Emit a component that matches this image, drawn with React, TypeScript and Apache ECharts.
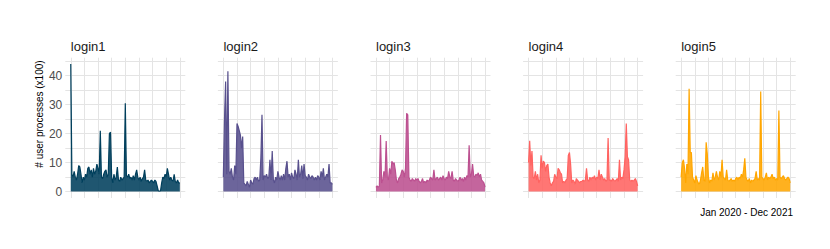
import { useEffect, useRef } from "react";
import * as echarts from "echarts";

// ---- data (weekly readings, week 0 = Jan 2020, week 96 = Jan 2022) ----
const panelNames = ["login1", "login2", "login3", "login4", "login5"];
const panelColors = ["#003f5c", "#58508d", "#bc5090", "#ff6361", "#ffa600"];

const login1 = [
  44, 6, 5, 7, 5, 4, 6, 9, 8.5, 6, 3, 5, 4, 6, 5, 8, 8.5, 6, 7.5, 5,
  8, 6, 7, 9.5, 8, 6, 21, 5, 4.5, 6, 7, 7.5, 5, 6, 20, 20.5, 5, 3, 6, 4,
  5, 8.5, 4, 3.5, 5, 4, 4.5, 5, 30.5, 5.5, 5, 6, 4.5, 5, 4, 5.5, 4, 6, 7.5, 5,
  4, 5, 3.5, 4.5, 5, 7.5, 4, 3.5, 4, 3, 3.5, 4, 3.5, 3, 4, 3.5, 2, 0.3, 0.2, 0.3,
  3, 5, 4.5, 6, 5, 8, 6, 4, 5, 4, 3.5, 6, 3.5, 3, 4, 3, 3,
];
const login2 = [
  5, 25, 38, 6, 41.5, 7, 6, 8, 5, 4, 9, 6, 23.5, 22.5, 21, 19.5, 15, 19, 3, 2.5,
  2, 3.5, 2.5, 1.5, 4, 3, 2.5, 4.5, 5, 4, 5, 3.5, 4, 11.5, 26.5, 4, 5.5, 5, 6, 4.5,
  5, 11, 4, 14, 4, 3, 5, 4, 7, 5, 4, 5.5, 4, 6, 4, 8, 10.5, 5, 6, 4,
  6.5, 5, 4.5, 7.5, 6, 4, 11, 5, 6, 9, 4.5, 9.5, 5.5, 5, 4, 6, 5, 4.5, 5.5, 5,
  4, 5, 4, 5.5, 5, 4, 7, 5, 8, 4, 5, 6, 5, 9.5, 3, 3, 2.5,
];
const login3 = [
  1.5, 2, 1.5, 2, 19.5, 3, 4, 7, 5, 17.5, 5, 4, 8, 6, 10.5, 9.5, 10, 7.5, 4, 3,
  4.5, 5, 6, 7.5, 7, 5, 8, 27, 26.5, 5, 4, 3.5, 4.5, 4, 3.5, 4.5, 4, 4.5, 3.5, 3,
  3.5, 4.5, 3, 3.5, 3, 4, 3.5, 4, 5, 4.5, 4, 7.5, 4, 4.5, 5, 4, 4.5, 5, 4, 5.5,
  4.5, 4, 5, 4.5, 7, 5, 4.5, 7, 4, 3.5, 4.5, 4, 3.5, 4, 5, 4, 4.5, 3.5, 5, 4,
  5.5, 5, 16, 5, 6, 9.5, 5.5, 5, 6, 5.5, 6.5, 5, 6, 4, 3.5, 3, 1.5,
];
const login4 = [
  10, 17.5, 9, 14, 5, 4.5, 7, 4, 6, 3, 4, 12.5, 8, 10.5, 10, 7, 9, 9.5, 5, 3,
  2, 3, 3.5, 6, 5, 4.5, 8, 7.5, 6.5, 6, 3, 3.5, 3, 4, 4.5, 12.5, 13.5, 9.5, 3, 4,
  3.5, 2.5, 4.5, 4, 3.5, 3, 3.5, 3.5, 4, 3.5, 4, 8, 4, 3.5, 5, 4, 5, 4.5, 5.5, 4,
  5, 4.5, 7.5, 4, 6, 5, 4, 4.5, 3.5, 4, 18.5, 4, 4, 3.5, 4.5, 4, 3.5, 4, 4.5, 3.5,
  11, 4, 5, 4.5, 7.5, 12, 23.5, 12, 11, 4, 3.5, 4, 3.5, 4, 4.5, 3.5, 2,
];
const login5 = [
  5, 10, 11, 8, 3, 9.5, 6, 35.5, 13.5, 13.5, 5, 4, 3, 5.5, 4, 3, 2.5, 4, 6.5, 8.5,
  4, 3.5, 17, 13, 5, 3, 4, 3.5, 6.5, 4, 5, 7, 5, 4, 7, 5, 11, 5, 4.5, 4,
  7.5, 4, 3.5, 4, 4.5, 3.5, 4, 3.5, 4.5, 5, 4, 5, 4.5, 6, 5, 7.5, 11.5, 5, 4, 3.5,
  4.5, 3, 4, 3.5, 4, 4.5, 7, 4, 4.5, 4, 34.5, 5, 4.5, 4, 5, 6.5, 4, 5, 4.5, 5,
  6, 4.5, 5, 4, 4.5, 4, 28, 5, 4.5, 5, 5.5, 4.5, 4, 4.5, 5, 4.5, 3,
];
const seriesValues = [login1, login2, login3, login4, login5];

const yTickLabels = [0, 10, 20, 30, 40];
const yGridValues = [0, 5, 10, 15, 20, 25, 30, 35, 40, 45];
const xGridWeeks = [0, 12, 24, 36, 48, 60, 72, 84, 96];
const yAxisTitle = "# user processes (x100)";
const captionText = "Jan 2020 - Dec 2021";

const FONT = "'Liberation Sans', Arial, Helvetica, sans-serif";

export default function App() {
  const ref = useRef<HTMLDivElement>(null);

  useEffect(() => {
    if (!ref.current) return;
    const chart = echarts.init(ref.current, null, { renderer: "svg" });

    const panelLeft0 = 65.3;
    const panelStep = 152.6;
    const panelTop = 57.7;
    const panelW = 120;
    const panelH = 140.3;
    const gridColor = "#e4e4e4";

    const grids = panelNames.map((_, i) => ({
      left: panelLeft0 + panelStep * i,
      top: panelTop,
      width: panelW,
      height: panelH,
    }));

    const xAxes = panelNames.map((_, i) => ({
      type: "value" as const,
      gridIndex: i,
      min: -4.8,
      max: 100.8,
      axisLine: { show: false },
      axisTick: { show: false, customValues: xGridWeeks },
      axisLabel: { show: false },
      splitLine: { show: true, lineStyle: { color: gridColor, width: 1 } },
    }));

    const yAxes = panelNames.map((_, i) => ({
      type: "value" as const,
      gridIndex: i,
      min: -2.2,
      max: 46.2,
      axisLine: { show: false },
      axisTick: { show: false, customValues: yGridValues },
      axisLabel: {
        show: i === 0,
        customValues: yTickLabels,
        color: "#4d4d4d",
        fontSize: 12,
        fontFamily: FONT,
        margin: 3,
      },
      splitLine: { show: true, lineStyle: { color: gridColor, width: 1 } },
    }));

    const series = seriesValues.map((vals, i) => ({
      type: "line" as const,
      name: panelNames[i],
      xAxisIndex: i,
      yAxisIndex: i,
      showSymbol: false,
      symbol: "none",
      data: vals.map((v, w) => [w, v]),
      lineStyle: { color: panelColors[i], width: 1.2 },
      itemStyle: { color: panelColors[i] },
      areaStyle: { color: panelColors[i], opacity: 0.88 },
    }));

    const titles = panelNames.map((name, i) => ({
      type: "text" as const,
      x: panelLeft0 + panelStep * i + 5.5,
      y: 46,
      style: {
        text: name,
        fill: "#1a1a1a",
        font: `13px ${FONT}`,
        align: "left",
        verticalAlign: "middle",
      },
    }));

    chart.setOption({
      animation: false,
      grid: grids,
      xAxis: xAxes,
      yAxis: yAxes,
      series,
      graphic: [
        ...titles,
        {
          type: "text",
          x: 39,
          y: 114,
          rotation: Math.PI / 2,
          style: {
            text: yAxisTitle,
            fill: "#000000",
            font: `10px ${FONT}`,
            align: "center",
            verticalAlign: "middle",
          },
        },
        {
          type: "text",
          x: 793,
          y: 212,
          style: {
            text: captionText,
            fill: "#000000",
            font: `10px ${FONT}`,
            align: "right",
            verticalAlign: "middle",
          },
        },
      ],
    });

    return () => chart.dispose();
  }, []);

  return (
    <div
      ref={ref}
      style={{ position: "fixed", left: 0, top: 0, width: 830, height: 249, background: "#ffffff" }}
    />
  );
}
